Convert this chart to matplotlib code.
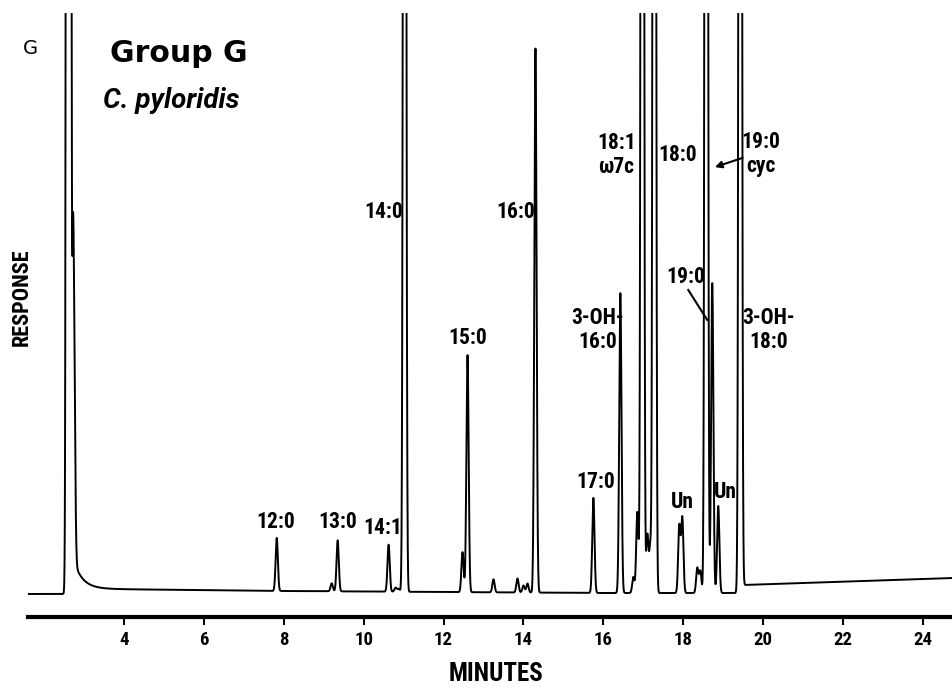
import numpy as np
import matplotlib
matplotlib.use('Agg')
import matplotlib.pyplot as plt
import matplotlib.font_manager as fm

# retention times (min) and peak heights (response units)
peak_time = [2.615, 2.725, 2.76,
             7.825, 9.2, 9.35, 10.625, 10.8, 10.875, 11.025,
             12.475, 12.6, 13.25, 13.85, 14.0, 14.1, 14.3,
             15.75, 16.425, 16.75, 16.85, 16.975, 17.1, 17.175, 17.275,
             17.9, 17.975, 18.35, 18.425, 18.575, 18.725, 18.875, 19.425]
peak_height = [20000, 290, 100,
               53, 8, 51, 47, 4, 3, 2500,
               40, 237, 13, 14, 7, 9, 544,
               95, 300, 16, 81, 3000, 58, 46, 3000,
               67, 75, 25, 22, 3000, 310, 87, 3000]

# baseline drift of the detector trace
base_time = [1.6, 2.55, 2.62, 3.4, 8.0, 12.0, 16.0, 19.42, 19.5, 24.75]
base_level = [23, 23, 28, 28, 26, 25, 24, 24, 32, 39]

# solvent tail
tail_start = 2.72
tail_amp = 32
tail_tau = 0.22

ticks = [4, 6, 8, 10, 12, 14, 16, 18, 20, 22, 24]

# peak labels: text, time, level
labels = [('12:0', 7.8, 95), ('13:0', 9.35, 95), ('14:1', 10.49, 89),
          ('14:0', 10.5, 405), ('15:0', 12.6, 279), ('16:0', 13.8, 405),
          ('17:0', 15.8, 135), ('3-OH-\n16:0', 15.85, 287),
          ('18:1\nω7c', 16.33, 462), ('18:0', 17.85, 462),
          ('19:0\ncyc', 19.95, 463), ('19:0', 18.05, 340),
          ('3-OH-\n18:0', 20.125, 287), ('Un', 17.975, 115), ('Un', 19.05, 125)]

installed = set(f.name for f in fm.fontManager.ttflist)
narrow = [f for f in ['Roboto Condensed', 'Liberation Sans Narrow', 'DejaVu Sans']
          if f in installed]
plain = [f for f in ['Roboto', 'DejaVu Sans'] if f in installed]

tt = np.arange(1.6, 24.75, 0.002)
sig = 0.028
yy = np.interp(tt, base_time, base_level)
for t0, h in zip(peak_time, peak_height):
    yy = yy + h*np.exp(-0.5*((tt - t0)/sig)**2)
yy = yy + np.where(tt > tail_start, tail_amp*np.exp(-(tt - tail_start)/tail_tau), 0)

fig = plt.figure(figsize=(9.53, 6.89), dpi=100)
ax = fig.add_axes([28/953, 72/689, 925/953, 604/689])
ax.plot(tt, yy, color='black', lw=1.4)
ax.set_xlim(1.6, 24.75)
ax.set_ylim(0, 604)

for s in ['top', 'left', 'right']:
    ax.spines[s].set_visible(False)
ax.spines['bottom'].set_linewidth(3.0)
ax.set_yticks([])
ax.set_xticks(ticks)
ax.set_xticklabels([str(t) for t in ticks], family=narrow, fontweight='bold', fontsize=13.5)
ax.tick_params(axis='x', direction='out', length=6, width=1.5, pad=4)

for txt, x, y in labels:
    ax.text(x, y, txt, ha='center', va='center', family=narrow, fontweight='bold',
            fontsize=15.5, linespacing=1.1)

ax.annotate('', xy=(18.725, 449), xytext=(19.55, 460),
            arrowprops=dict(arrowstyle='-|>', color='black', lw=1.5, mutation_scale=10))
ax.plot([18.125, 18.6], [327, 297], color='black', lw=1.5)

fig.text(30/953, 1 - 48/689, 'G', ha='center', va='center', fontsize=14, family='DejaVu Sans')
fig.text(110/953, 1 - 62/689, 'Group G', ha='left', va='baseline', fontsize=21.5,
         fontweight='bold', family='DejaVu Sans')
fig.text(103/953, 1 - 108/689, 'C. pyloridis', ha='left', va='baseline', fontsize=20,
         fontstyle='italic', fontweight='bold', family=plain)
fig.text(22/953, 1 - 297/689, 'RESPONSE', ha='center', va='center', rotation=90,
         fontsize=16, fontweight='bold', family=narrow)
fig.text(496/953, 1 - 674/689, 'MINUTES', ha='center', va='center',
         fontsize=18, fontweight='bold', family=narrow)

plt.savefig('out.png', dpi=100)
